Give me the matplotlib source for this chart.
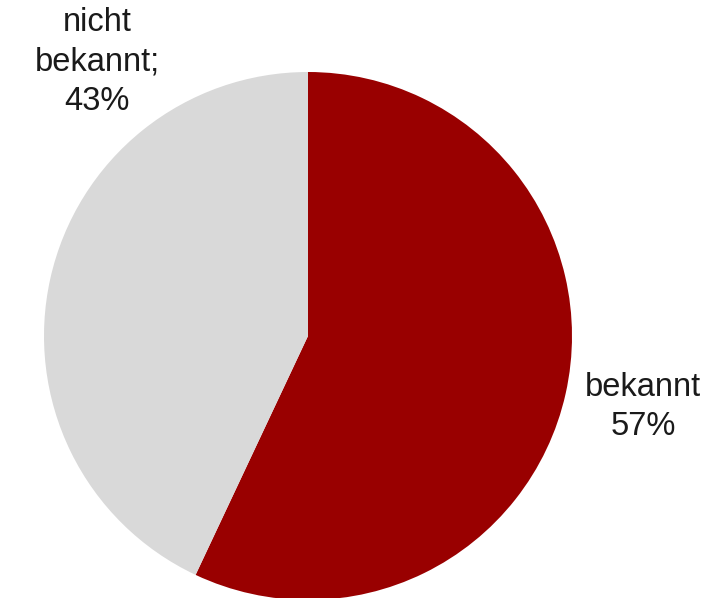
import matplotlib
matplotlib.use("Agg")
import matplotlib.pyplot as plt

categories = ["bekannt", "nicht bekannt"]
values = [57, 43]
label_texts = ["bekannt\n57%", "nicht\nbekannt;\n43%"]
colors = ["#990000", "#d9d9d9"]

plt.rcParams['font.family'] = ['Liberation Sans', 'DejaVu Sans']

fig = plt.figure(figsize=(7.13, 5.98), dpi=100)
ax = fig.add_axes([0, 0, 1, 1])
ax.pie(values, colors=colors, startangle=90, counterclock=False,
       radius=1.0, center=(0, 0), wedgeprops=dict(linewidth=0))

scale = 264.0
cx, cy = 308.0, 336.0
ax.set_xlim(-cx / scale, (713 - cx) / scale)
ax.set_ylim(-(598 - cy) / scale, cy / scale)
ax.set_aspect('equal')
ax.axis('off')

label_pos = [((643 - cx) / scale, -(407 - cy) / scale),
             ((97 - cx) / scale, -(62 - cy) / scale)]
for txt, (x, y) in zip(label_texts, label_pos):
    ax.text(x, y, txt, ha='center', va='center', fontsize=23.5,
            color='#1a1a1a', linespacing=1.36)

fig.savefig("out.png", dpi=100)
